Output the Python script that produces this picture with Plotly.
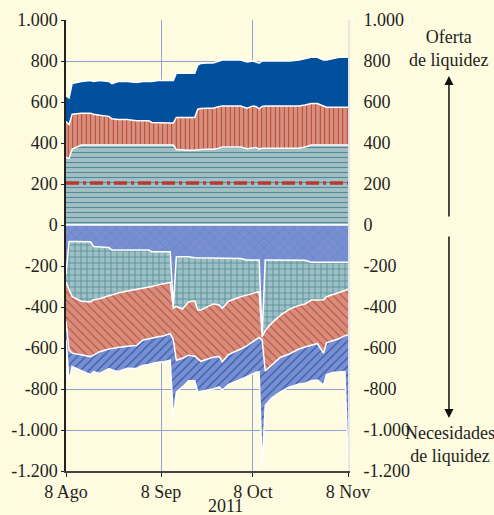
import pandas as pd
import plotly.graph_objects as go

# days after 8 Aug 2011
days = [0, 1, 2, 5, 8, 9, 11, 14, 15, 17, 20, 23, 25, 27, 28, 30, 32, 34, 35, 36,
        38, 40, 42, 43, 44, 46, 48, 50, 51, 53, 55, 57, 59, 61, 62, 63, 64, 65, 67,
        70, 73, 76, 78, 80, 82, 84, 85, 87, 89, 91, 92]

# liquidity supply (cumulative levels)
sup_teal = [330, 325, 370, 390, 390, 390, 390, 390, 390, 390, 390, 390, 390, 390, 390, 390, 390, 390, 390, 368,
            365, 365, 365, 365, 368, 370, 370, 375, 380, 380, 380, 380, 372, 378, 378, 370, 375, 375, 375,
            375, 375, 375, 380, 390, 390, 390, 390, 390, 390, 390, 390]
sup_red = [505, 490, 540, 545, 545, 540, 535, 530, 518, 515, 515, 508, 508, 508, 500, 498, 497, 497, 497, 525,
           525, 525, 525, 565, 568, 570, 570, 578, 580, 580, 580, 580, 570, 580, 578, 567, 578, 580, 580,
           580, 580, 580, 585, 593, 593, 580, 575, 575, 575, 575, 575]
sup_blue = [630, 620, 690, 700, 705, 700, 705, 700, 690, 700, 700, 695, 700, 700, 700, 705, 705, 705, 705, 740,
            740, 740, 740, 780, 788, 790, 790, 800, 805, 805, 805, 805, 795, 800, 795, 790, 800, 800, 800,
            800, 800, 805, 810, 818, 818, 805, 805, 810, 818, 818, 820]

# liquidity needs (cumulative levels)
need_cross = [-240, -80, -80, -80, -82, -105, -106, -110, -122, -122, -122, -122, -122, -122, -130, -130, -130, -130, -400, -155,
              -155, -155, -160, -160, -162, -163, -163, -163, -163, -163, -163, -163, -171, -171, -171, -171, -540, -171, -171,
              -171, -171, -171, -172, -182, -182, -182, -182, -182, -182, -182, -182]
need_grid = [-280, -320, -350, -372, -375, -365, -360, -345, -340, -332, -322, -315, -310, -303, -300, -292, -287, -280, -405, -398,
             -410, -375, -370, -415, -415, -400, -385, -390, -407, -372, -360, -350, -342, -335, -328, -325, -545, -515, -480,
             -440, -410, -392, -385, -366, -366, -365, -350, -340, -330, -318, -315]
need_red = [-470, -610, -625, -635, -642, -635, -618, -605, -602, -598, -592, -588, -562, -555, -550, -545, -540, -530, -560, -660,
            -650, -635, -640, -655, -665, -655, -645, -642, -667, -632, -620, -605, -590, -570, -562, -548, -560, -712, -685,
            -645, -628, -605, -595, -585, -578, -625, -575, -565, -555, -540, -535]
need_blue = [-560, -760, -690, -712, -730, -715, -724, -700, -707, -715, -699, -700, -685, -680, -675, -670, -667, -660, -940, -815,
             -790, -760, -760, -815, -812, -808, -800, -790, -805, -777, -765, -755, -740, -725, -718, -715, -1180, -880, -845,
             -813, -790, -775, -772, -760, -756, -780, -730, -720, -718, -715, -1150]

ref_level = 205

ytick_vals = [1000, 800, 600, 400, 200, 0, -200, -400, -600, -800, -1000, -1200]
ytick_text = ['1.000', '800', '600', '400', '200', '0', '-200', '-400', '-600', '-800', '-1.000', '-1.200']
xtick_vals = ['2011-08-08', '2011-09-08', '2011-10-08', '2011-11-08']
xtick_text = ['8 Ago', '8 Sep', '8 Oct', '8 Nov']

dates = pd.Timestamp('2011-08-08') + pd.to_timedelta(days, unit='D')
zero = [0] * len(days)

FONT = 'Liberation Serif, Times New Roman, serif'
BG = '#fefbe1'
EDGE = dict(color='white', width=1.5)

fig = go.Figure()


def base():
    fig.add_trace(go.Scatter(x=dates, y=zero, mode='lines', line=EDGE,
                             showlegend=False, hoverinfo='skip'))


def band(y, bg, fg=None, shape=None, size=5, solidity=0.2):
    kw = dict(fillcolor=bg)
    if shape:
        kw['fillpattern'] = dict(shape=shape, bgcolor=bg, fgcolor=fg,
                                 size=size, solidity=solidity, fillmode='replace')
    fig.add_trace(go.Scatter(x=dates, y=y, mode='lines', line=EDGE, fill='tonexty',
                             showlegend=False, hoverinfo='skip', **kw))


# supply side
base()
band(sup_teal, '#a2bfc4', '#4f8c97', '-', 5, 0.22)
band(sup_red, '#d7907e', '#b53b30', '|', 4.5, 0.2)
band(sup_blue, '#00509e')

# needs side
base()
band(need_cross, '#7b8ed2', '#5a8bc9', 'x', 7, 0.2)
band(need_grid, '#9ec0c5', '#4f8f98', '+', 6, 0.25)
band(need_red, '#d88d7b', '#b5483e', '\\', 6, 0.16)
band(need_blue, '#7b8fd0', '#2a5fb0', '/', 6, 0.2)

# reference line
fig.add_trace(go.Scatter(x=[dates[0], dates[-1]], y=[ref_level, ref_level], mode='lines',
                         line=dict(color='#b83a30', width=3.5, dash='13px,4px,3px,4px'),
                         showlegend=False, hoverinfo='skip'))

# dummy for right axis
fig.add_trace(go.Scatter(x=[dates[0]], y=[0], yaxis='y2', mode='markers',
                         marker=dict(opacity=0), showlegend=False, hoverinfo='skip'))

fig.update_layout(
    width=494, height=515,
    margin=dict(l=66, r=146, t=20, b=44),
    paper_bgcolor=BG, plot_bgcolor=BG,
    font=dict(family=FONT, size=18, color='#231f20'),
    xaxis=dict(range=[dates[0], dates[-1]], tickvals=xtick_vals, ticktext=xtick_text,
               showgrid=True, gridcolor='#8ea2d8', gridwidth=1,
               showline=True, linecolor='#444', linewidth=1.5,
               ticks='outside', ticklen=4, tickcolor='#222', zeroline=False,
               automargin=False),
    yaxis=dict(range=[-1200, 1000], tickvals=ytick_vals, ticktext=ytick_text,
               showgrid=True, gridcolor='#8ea2d8', gridwidth=1,
               showline=True, linecolor='#222', linewidth=1.5,
               ticks='outside', ticklen=3, tickcolor='#222', zeroline=False,
               automargin=False),
    yaxis2=dict(range=[-1200, 1000], tickvals=ytick_vals, ticktext=ytick_text,
                overlaying='y', side='right', showgrid=False, zeroline=False,
                showline=True, linecolor='#e6e6e6', linewidth=2,
                ticks='', ticklabelstandoff=10, automargin=False),
    annotations=[
        dict(text='2011', xref='paper', yref='paper', x=0.564, y=-0.077,
             showarrow=False, xanchor='center', yanchor='middle'),
        dict(text='Oferta<br>de liquidez', xref='paper', yref='paper', x=1.358, y=0.936,
             showarrow=False, xanchor='center', yanchor='middle'),
        dict(text='Necesidades<br>de liquidez', xref='paper', yref='paper', x=1.36, y=0.058,
             showarrow=False, xanchor='center', yanchor='middle'),
        dict(x=1.358, y=0.876, xref='paper', yref='paper', axref='pixel', ayref='pixel',
             ax=0, ay=142, showarrow=True, arrowhead=2, arrowsize=1.2,
             arrowwidth=1.5, arrowcolor='#111', text=''),
        dict(x=1.358, y=0.1175, xref='paper', yref='paper', axref='pixel', ayref='pixel',
             ax=0, ay=-183, showarrow=True, arrowhead=2, arrowsize=1.2,
             arrowwidth=1.5, arrowcolor='#111', text=''),
    ],
)

fig.write_html('out.html', config={'displayModeBar': False},
               post_script="document.body.style.margin='0';"
                           "document.body.style.background='" + BG + "';")
